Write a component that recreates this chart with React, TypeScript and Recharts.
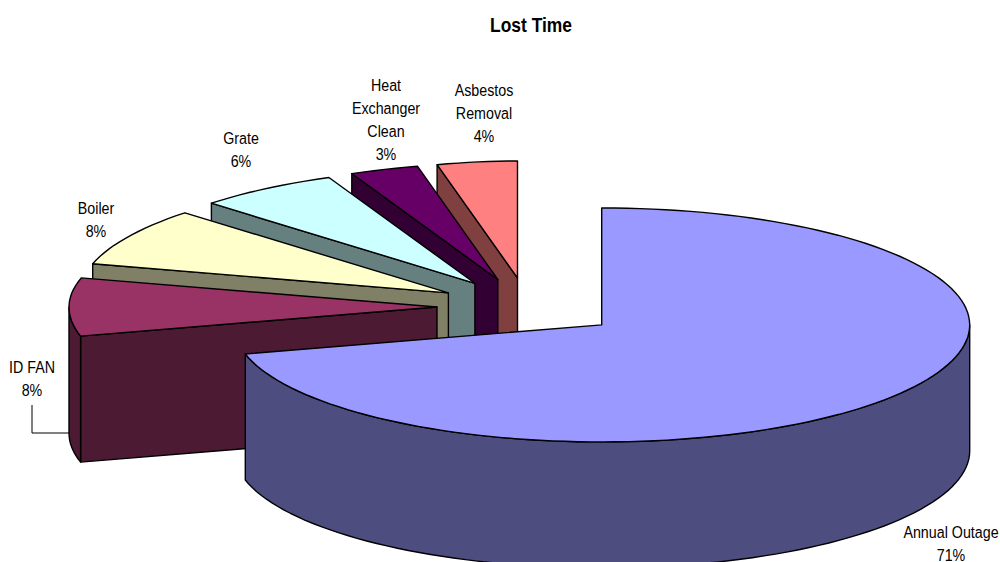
import React from "react";
import { PieChart, Pie } from "recharts";

const sliceNames = ["Asbestos Removal", "Heat Exchanger Clean", "Grate", "Boiler", "ID FAN", "Annual Outage"];
const sliceValues = [4, 3, 6, 8, 8, 71];
const topColors = ["#FF8080", "#660066", "#CCFFFF", "#FFFFCC", "#993366", "#9999FF"];
const sideColors = ["#804040", "#330033", "#668080", "#808066", "#4D1A33", "#4D4D80"];

// label text lines are centred on these spots, first baseline at y
const labelSpots: Record<string, { x: number; y: number; lines: string[] }> = {
  "Asbestos Removal": { x: 484, y: 96, lines: ["Asbestos", "Removal"] },
  "Heat Exchanger Clean": { x: 386, y: 91, lines: ["Heat", "Exchanger", "Clean"] },
  Grate: { x: 241, y: 144, lines: ["Grate"] },
  Boiler: { x: 96, y: 214, lines: ["Boiler"] },
  "ID FAN": { x: 32, y: 373, lines: ["ID FAN"] },
  "Annual Outage": { x: 951, y: 538, lines: ["Annual Outage"] },
};

const chartData = sliceNames.map((name, i) => ({
  name,
  value: sliceValues[i],
  fill: topColors[i],
  side: sideColors[i],
}));

const TILT = 117 / 368; // vertical squash of the disc
const DEPTH = 126; // wall height
const EXPLODE = 0.25; // slice pull-out, as a share of the radius
const RAD = Math.PI / 180;
const FONT = "'Liberation Sans', Arial, sans-serif";
const NARROW = 0.84; // no narrow face installed, so squeeze the regular one

function Slice3D(props: any) {
  const { cx, cy, outerRadius: r, startAngle: s, endAngle: e, midAngle: m, fill, side } = props;
  const tipX = cx + EXPLODE * r * Math.cos(m * RAD);
  const tipY = cy - EXPLODE * r * TILT * Math.sin(m * RAD);

  // rim point; the far left of the disc narrows a little
  const rim = (a: number, drop = 0) => {
    const sn = Math.sin(a * RAD);
    const cs = Math.cos(a * RAD);
    const narrow = sn > 0 && cs < 0 ? 1 - 0.13 * Math.pow(sn, 12) - 0.035 * sn * sn : 1;
    return [tipX + r * cs * narrow, tipY - r * TILT * sn + drop];
  };
  const arc = (from: number, to: number, drop = 0) => {
    const steps = Math.max(2, Math.ceil(Math.abs(to - from) / 2));
    const pts: number[][] = [];
    for (let k = 0; k <= steps; k++) pts.push(rim(from + ((to - from) * k) / steps, drop));
    return pts;
  };
  const toPath = (pts: number[][]) => "M" + pts.map((p) => `${p[0].toFixed(1)} ${p[1].toFixed(1)}`).join("L") + "Z";

  const face = (a: number) => {
    const [x, y] = rim(a);
    return toPath([[tipX, tipY], [x, y], [x, y + DEPTH], [tipX, tipY + DEPTH]]);
  };

  const wallFrom = Math.max(s, 180);
  const wallTo = Math.min(e, 360);
  const common = { stroke: "#000", strokeWidth: 1.4, strokeLinejoin: "round" as const };

  return (
    <g>
      {Math.sin((s - 90) * RAD) < -1e-6 && <path d={face(s)} fill={side} {...common} />}
      {Math.sin((e + 90) * RAD) < -1e-6 && <path d={face(e)} fill={side} {...common} />}
      {wallTo > wallFrom && (
        <path d={toPath([...arc(wallFrom, wallTo), ...arc(wallTo, wallFrom, DEPTH)])} fill={side} {...common} />
      )}
      <path d={toPath([[tipX, tipY], ...arc(s, e)])} fill={fill} {...common} />
    </g>
  );
}

function SliceLabel(props: any) {
  const spot = labelSpots[props.name];
  const lines = [...spot.lines, `${props.value}%`];
  return (
    <g>
      {props.name === "ID FAN" && <path d="M32 405V433H70" fill="none" stroke="#000" strokeWidth={1} />}
      {lines.map((line, i) => (
        <text
          key={line}
          transform={`translate(${spot.x} ${spot.y + i * 23}) scale(${NARROW} 1)`}
          textAnchor="middle"
          fontFamily={FONT}
          fontSize={17}
          fill="#000"
        >
          {line}
        </text>
      ))}
    </g>
  );
}

export default function App() {
  return (
    <div style={{ position: "absolute", left: 0, top: 0, width: 1000, height: 562, background: "#fff" }}>
      <PieChart width={1000} height={562} margin={{ top: 0, right: 0, bottom: 0, left: 0 }}>
        <text
          transform={`translate(531 32) scale(0.87 1)`}
          textAnchor="middle"
          fontFamily={FONT}
          fontWeight="bold"
          fontSize={20}
          fill="#000"
        >
          Lost Time
        </text>
        <Pie
          data={chartData}
          dataKey="value"
          nameKey="name"
          cx={529}
          cy={307}
          innerRadius={0}
          outerRadius={368}
          startAngle={90}
          endAngle={450}
          stroke="none"
          shape={Slice3D}
          inactiveShape={Slice3D}
          label={SliceLabel}
          labelLine={false}
          isAnimationActive={false}
        />
      </PieChart>
    </div>
  );
}
